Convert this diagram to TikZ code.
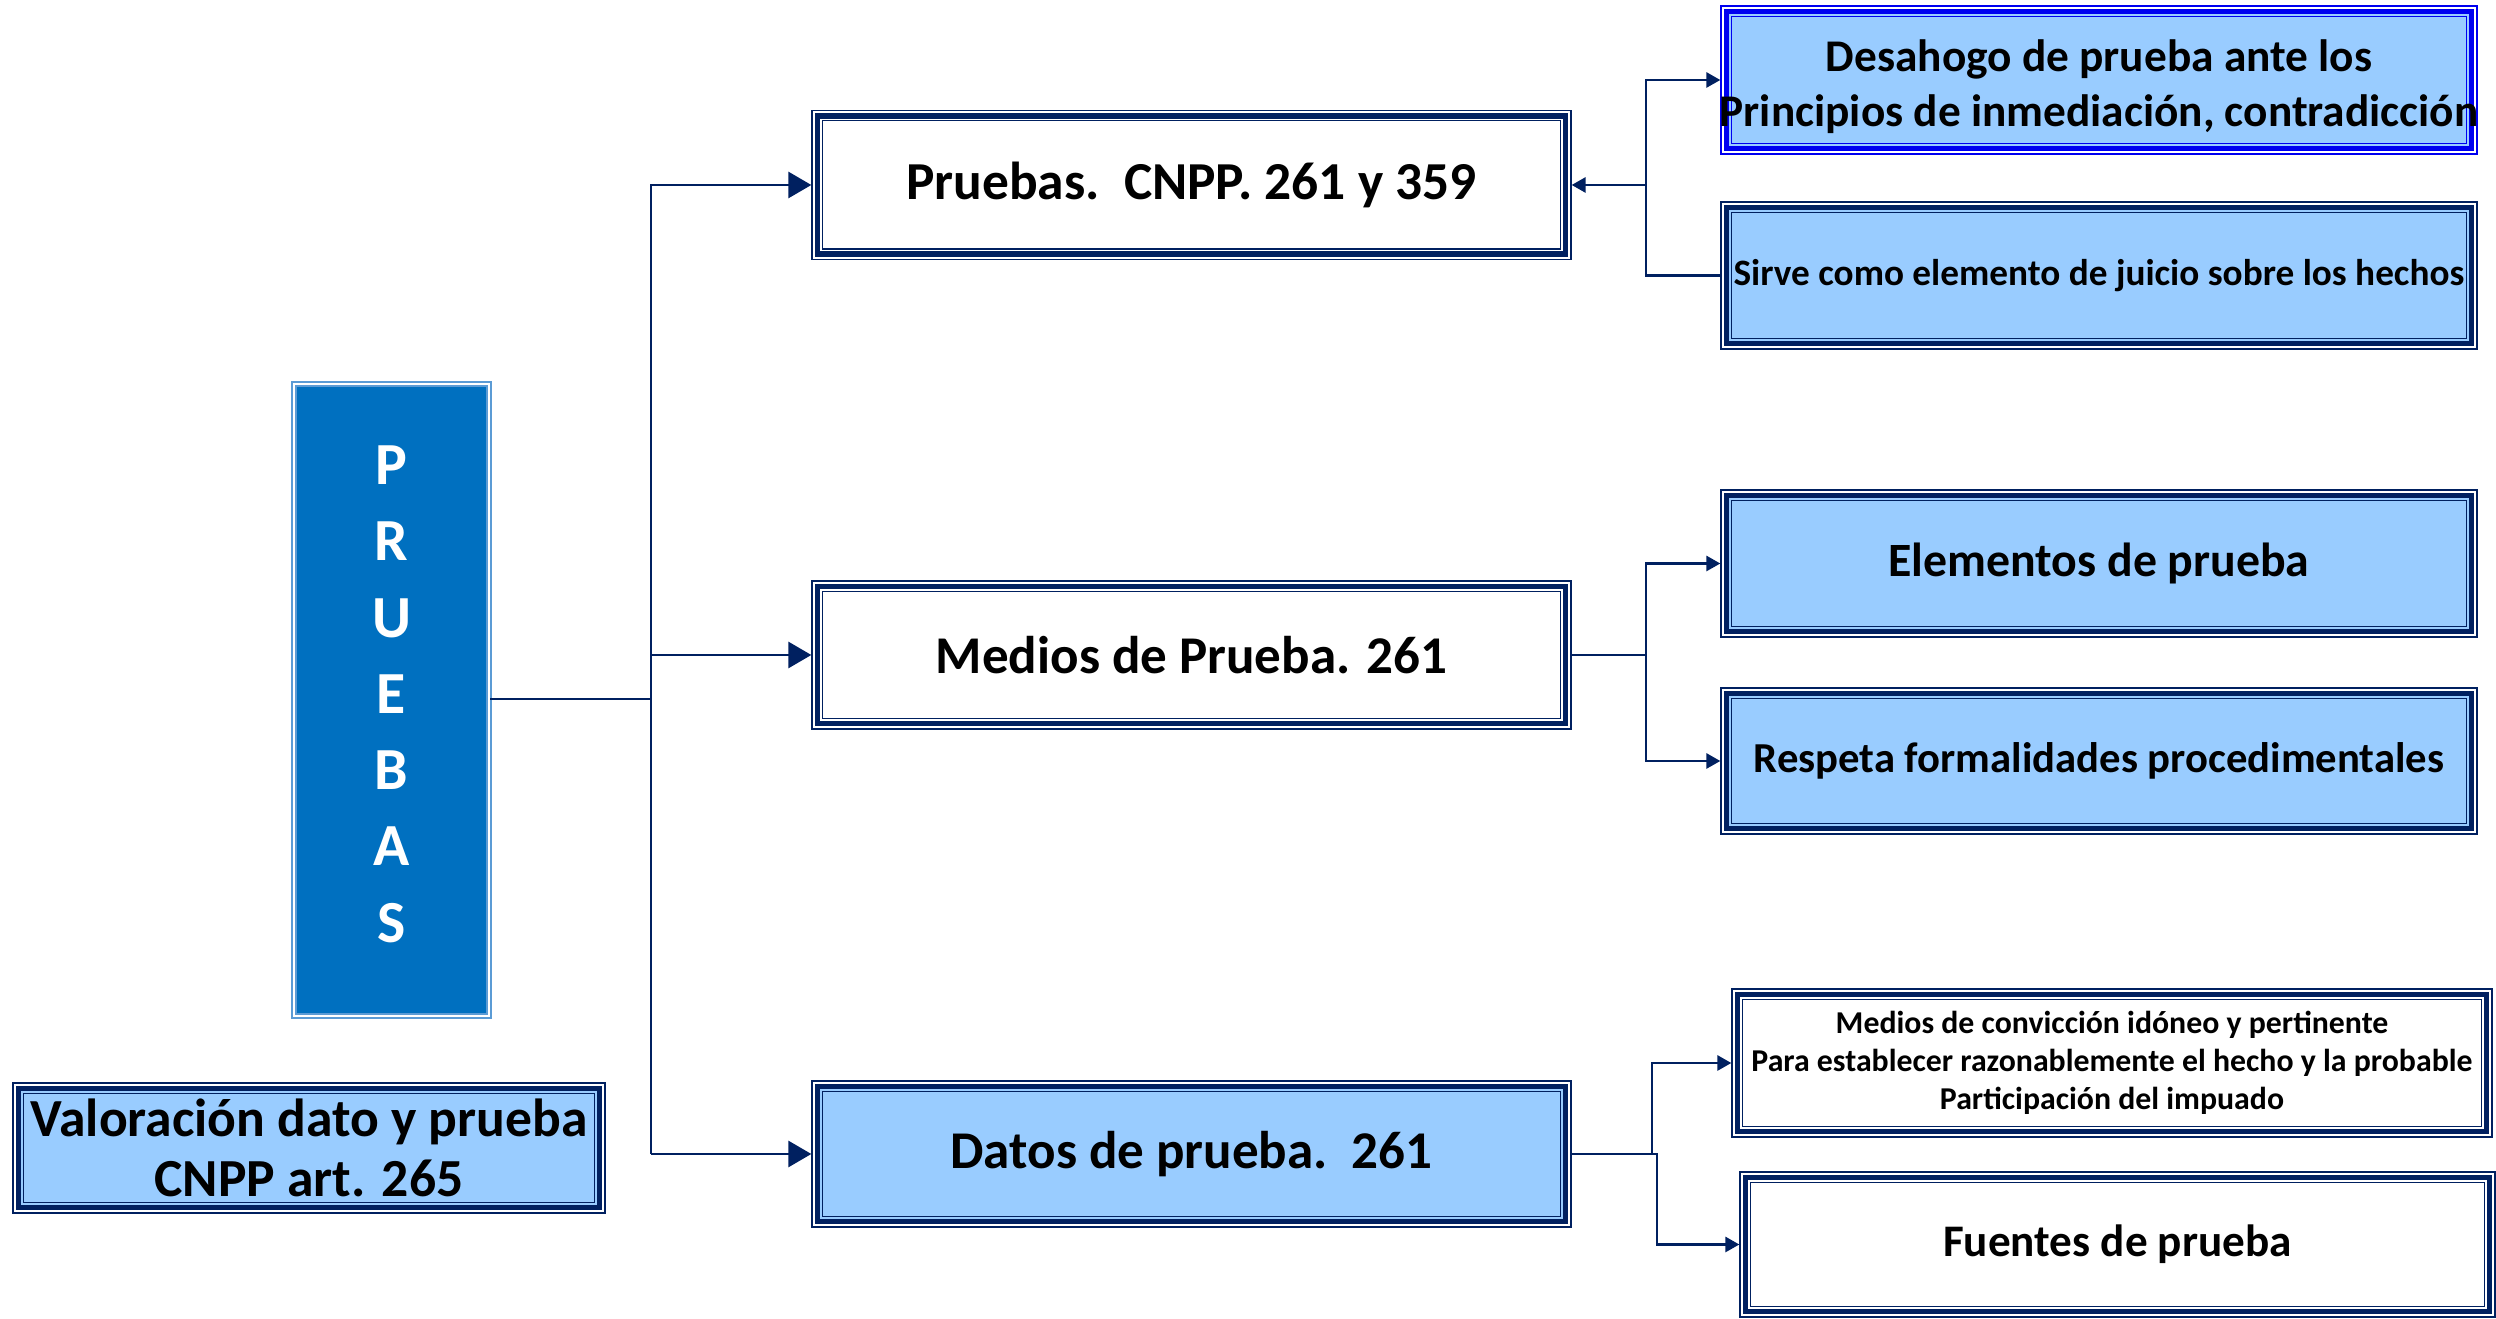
\documentclass[tikz,border=0pt]{standalone}
\usepackage{fontspec}
\setmainfont{Carlito}
\usetikzlibrary{arrows.meta,calc,backgrounds}
\definecolor{navy}{RGB}{0,32,96}
\definecolor{lblue}{RGB}{153,204,255}
\definecolor{pblue}{RGB}{0,112,192}
\definecolor{pline}{RGB}{91,155,213}
\definecolor{bblue}{RGB}{0,0,240}
\newcommand\fsz[2]{\fontsize{#1pt}{#2pt}\selectfont}
\newcommand\frameit[3]{%
  \begin{pgfonlayer}{background}
    \fill[#3] ($(#1.north west)+(6.25,6.25)$) rectangle ($(#1.south east)+(-6.25,-6.25)$);
    \draw[#2, line width=0.55mm] ($(#1.north west)+(6.25,6.25)$) rectangle ($(#1.south east)+(-6.25,-6.25)$);
    \draw[#2, line width=0.13mm] ($(#1.north west)+(11,11)$) rectangle ($(#1.south east)+(-11,-11)$);
  \end{pgfonlayer}}
\tikzset{
  box/.style={draw=#1, line width=0.13mm, inner sep=0pt, align=center},
  box/.default=navy,
  conn/.style={navy, line width=0.28mm},
  bigarr/.style={conn, -{Triangle[length=2.3mm,width=2.6mm]}},
  smallarr/.style={conn, -{Triangle[length=1.4mm,width=1.5mm]}},
}
\begin{document}
\begin{tikzpicture}[x=0.1mm,y=-0.1mm]
\useasboundingbox (0,0) rectangle (2496,1319);
\begin{pgfonlayer}{background}
\fill[white] (0,0) rectangle (2496,1319);
\end{pgfonlayer}

% left column
\node[draw=pline, double=white, double distance=0.2mm, line width=0.2mm, fill=pblue,
      minimum width=19.5mm, minimum height=63.2mm, text=white, align=center,
      font=\bfseries\fsz{17}{21.7}] (pru) at (391.5,700) {P\\R\\U\\E\\B\\A\\S\rule[-3.4pt]{0pt}{0pt}};
\node[box, minimum width=59.2mm, minimum height=13.0mm, font=\bfseries\fsz{15.25}{17.3}] (val) at (309,1148)
  {Valoración dato y prueba\\CNPP art. 265};
\frameit{val}{navy}{lblue}

% middle column
\node[box, minimum width=75.9mm, minimum height=14.9mm, font=\bfseries\fsz{15.2}{17}] (pr) at (1191.5,185)
  {Pruebas.\ \ CNPP. 261 y 359};
\frameit{pr}{navy}{white}
\node[box, minimum width=75.9mm, minimum height=14.8mm, font=\bfseries\fsz{15.1}{17}] (me) at (1191.5,655)
  {Medios de Prueba. 261};
\frameit{me}{navy}{white}
\node[box, minimum width=75.9mm, minimum height=14.6mm, font=\bfseries\fsz{15.1}{17}] (da) at (1191.5,1154)
  {Datos de prueba.\ \ 261};
\frameit{da}{navy}{lblue}

% right column
\node[box=bblue, minimum width=75.6mm, minimum height=14.8mm, font=\bfseries\fsz{12.9}{15.6}] (des) at (2099,80)
  {\rule{0pt}{13pt}\makebox[0pt]{Desahogo de prueba ante los}\\\makebox[0pt]{Principios de inmediación, contradicción}};
\frameit{des}{bblue}{lblue}
\node[box, minimum width=75.6mm, minimum height=14.7mm, font=\bfseries\fsz{10.6}{12.5}] (sir) at (2099,275.5)
  {Sirve como elemento de juicio sobre los hechos};
\frameit{sir}{navy}{lblue}
\node[box, minimum width=75.6mm, minimum height=14.7mm, font=\bfseries\fsz{13.6}{16}] (ele) at (2099,563.5)
  {Elementos de prueba};
\frameit{ele}{navy}{lblue}
\node[box, minimum width=75.6mm, minimum height=14.6mm, font=\bfseries\fsz{12.15}{14}] (res) at (2099,761)
  {Respeta formalidades procedimentales};
\frameit{res}{navy}{lblue}
\node[box, minimum width=76.0mm, minimum height=14.8mm, font=\bfseries\fsz{9.05}{10.8}] (mc) at (2112,1063)
  {Medios de convicción idóneo y pertinente\\Para establecer razonablemente el hecho y la probable\\Participación del impuado};
\frameit{mc}{navy}{white}
\node[box, minimum width=75.5mm, minimum height=14.5mm, font=\bfseries\fsz{12.85}{15}] (fu) at (2117.5,1244.5)
  {Fuentes de prueba};
\frameit{fu}{navy}{white}

% connectors
\coordinate (t1) at (651,0);
\coordinate (b1) at (1646,0);
\coordinate (b2) at (1652,0);
\coordinate (b3) at (1657,0);

\draw[conn] (pru.east |- 0,699) -- (t1 |- 0,699);
\draw[bigarr] (da.west -| t1) -- (pr.west -| t1) -- (pr.west);
\draw[bigarr] (me.west -| t1) -- (me.west);
\draw[bigarr] (da.west -| t1) -- (da.west);

\draw[smallarr] (pr.east -| b1) -- (pr.east);
\draw[smallarr] (sir.west) -| (b1 |- des.west) -- (des.west);

\draw[smallarr] (me.east) -| (b1 |- ele.west) -- (ele.west);
\draw[smallarr] (me.east -| b1) |- (res.west);

\draw[smallarr] (da.east) -| (b2 |- mc.west) -- (mc.west);
\draw[smallarr] (da.east -| b2) -- (da.east -| b3) |- (fu.west);
\end{tikzpicture}
\end{document}
